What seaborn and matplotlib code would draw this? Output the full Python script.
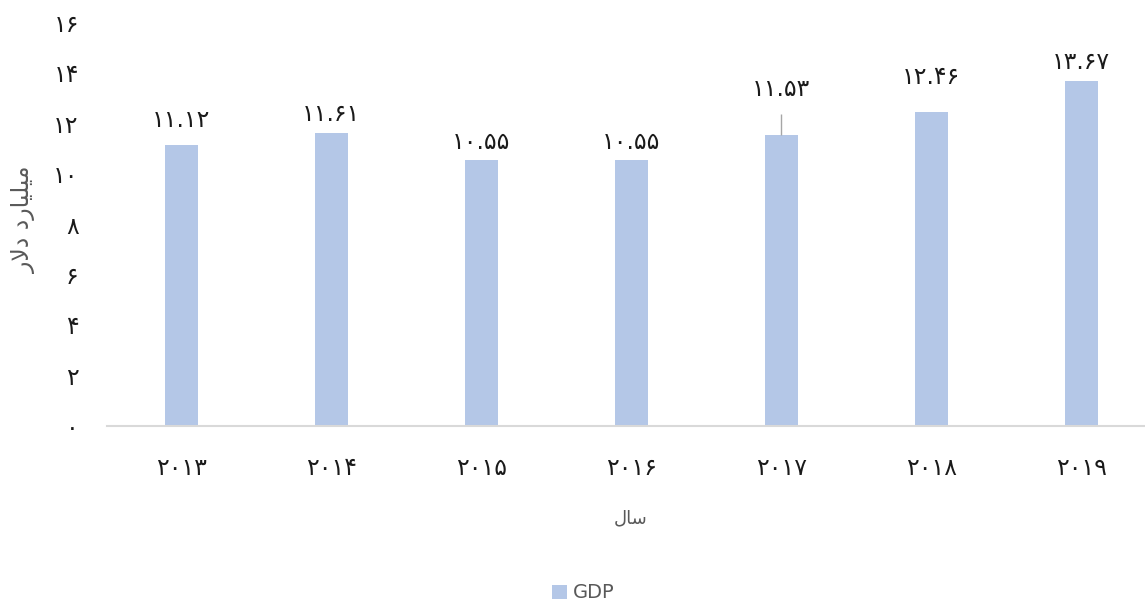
import matplotlib
matplotlib.use("Agg")
import matplotlib.pyplot as plt
import seaborn as sns
import pandas as pd
from matplotlib.patches import Patch

years = ["2013", "2014", "2015", "2016", "2017", "2018", "2019"]
gdp = [11.12, 11.61, 10.55, 10.55, 11.53, 12.46, 13.67]
yticks = [0, 2, 4, 6, 8, 10, 12, 14, 16]
series_name = "GDP"
# visual-order, pre-shaped Persian text
ylabel_text = "ﺭﻻﺩ ﺩﺭﺎﻴﻠﻴﻣ"   # میلیارد دلار
xlabel_text = "ﻝﺎﺳ"            # سال

FA = str.maketrans("0123456789", "۰۱۲۳۴۵۶۷۸۹")
def fa(s):
    return str(s).translate(FA)

sns.set_theme(style="white")
plt.rcParams["font.family"] = ["DejaVu Sans"]

BAR = "#B4C7E7"
AXIS = "#D9D9D9"
TXT = "#1a1a1a"
GRAY = "#595959"
DIG = 17

fig = plt.figure(figsize=(11.45, 6.03), dpi=100)
W, H = 1145, 603
ax = fig.add_axes([106.5 / W, 1 - 425.5 / H, 1049.5 / W, 403 / H])

df = pd.DataFrame({"year": years, "gdp": gdp})
sns.barplot(data=df, x="year", y="gdp", color=BAR, width=0.22, ax=ax,
            saturation=1, edgecolor="none")

ax.set_xlim(-0.5, len(years) - 0.5)
ax.set_ylim(0, 16)
ax.set_yticks(yticks)
ax.set_yticklabels([fa(t) for t in yticks], fontsize=DIG, color=TXT)
ax.set_xticks(range(len(years)))
ax.set_xticklabels([fa(y) for y in years], fontsize=DIG, color=TXT)
ax.tick_params(axis="y", length=0, pad=20)
ax.tick_params(axis="x", length=0, pad=22)
ax.set_xlabel("")
ax.set_ylabel("")
for s in ["top", "right", "left"]:
    ax.spines[s].set_visible(False)
ax.spines["bottom"].set_color(AXIS)
ax.spines["bottom"].set_linewidth(1.5)

# data labels (offsets in points, as placed in the original)
label_offsets = [18, 14, 13, 13, 33, 25, 14]
for i, v in enumerate(gdp):
    ax.annotate(fa(f"{v:.2f}"), (i, v), xytext=(0, label_offsets[i]),
                textcoords="offset points", ha="center", va="center",
                fontsize=DIG, color=TXT)

# leader line for 2017 label
ax.vlines(4, gdp[4], gdp[4] + 0.85, color="#A6A6A6", lw=1)

fig.text(24 / W, 1 - 220 / H, ylabel_text, rotation=90, ha="center",
         va="center", fontsize=17, color=GRAY)
fig.text(631 / W, 1 - 518 / H, xlabel_text, ha="center", va="center",
         fontsize=13, color=GRAY)

fig.legend(handles=[Patch(facecolor=BAR, edgecolor="none", label=series_name)],
           loc="center", bbox_to_anchor=(583 / W, 1 - 593 / H), frameon=False,
           fontsize=14, handlelength=0.75, handleheight=0.75, handletextpad=0.3,
           labelcolor=GRAY)

fig.savefig("out.png", dpi=100)
